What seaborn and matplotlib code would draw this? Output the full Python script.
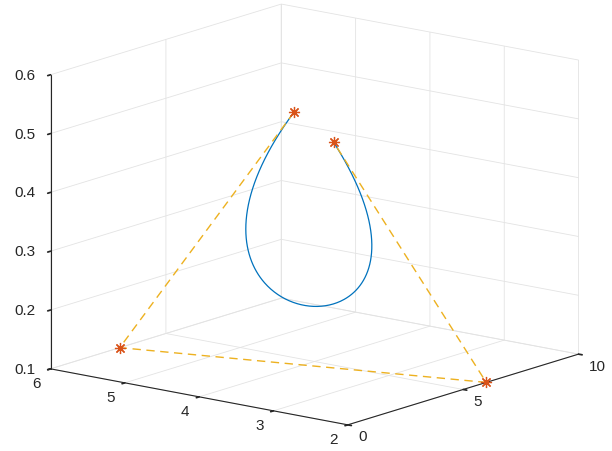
import numpy as np
import matplotlib
matplotlib.use("Agg")
import matplotlib.pyplot as plt
import seaborn as sns

# --------------------------
# Data: cubic Bezier control points (x, y, z)
# --------------------------
ctrl_x = [3.3, 3.0, 6.0, 3.9]
ctrl_y = [3.75, 6.0, 2.0, 3.4]
ctrl_z = [0.55, 0.1, 0.1, 0.5]

x_ticks = [0, 5, 10]
y_ticks = [2, 3, 4, 5, 6]
z_ticks = [0.1, 0.2, 0.3, 0.4, 0.5, 0.6]

# --------------------------
# Style
# --------------------------
sns.set_theme(style="white")
plt.rcParams['font.family'] = ['Liberation Sans', 'DejaVu Sans']
plt.rcParams['grid.color'] = '#e3e3e3'
plt.rcParams['grid.linewidth'] = 0.6
palette = {"curve": "#0072BD", "points": "#D95319", "polygon": "#EDB120"}

# Bezier curve evaluated from the control points
t = np.linspace(0, 1, 300)[:, None]
P = np.column_stack([ctrl_x, ctrl_y, ctrl_z])
B = ((1 - t) ** 3) * P[0] + 3 * t * (1 - t) ** 2 * P[1] + 3 * t ** 2 * (1 - t) * P[2] + t ** 3 * P[3]

fig = plt.figure(figsize=(6.12, 4.51), dpi=100)
ax = fig.add_axes([0.004, 0.011, 1, 1], projection="3d")
ax.set_proj_type("ortho")
ax.view_init(elev=13.9, azim=-141.9)
ax.set_box_aspect((1, 1.01, 0.81), zoom=1.317)

ax.plot(B[:, 0], B[:, 1], B[:, 2], color=palette["curve"], lw=0.9)
ax.plot(ctrl_x, ctrl_y, ctrl_z, color=palette["polygon"], ls=(0, (6, 4)), lw=1.0)
ax.plot(ctrl_x, ctrl_y, ctrl_z, ls="none", marker=(8, 2, 0), color=palette["points"],
        markersize=8, markeredgewidth=0.9)

ax.set_xlim(0, 10)
ax.set_ylim(2, 6)
ax.set_zlim(0.1, 0.6)
ax.set_xticks(x_ticks)
ax.set_yticks(y_ticks)
ax.set_zticks(z_ticks)
ax.set_zticklabels([f"{v:.1f}" for v in z_ticks])

for axis in (ax.xaxis, ax.yaxis, ax.zaxis):
    axis.set_pane_color((1, 1, 1, 0))
    axis.pane.set_edgecolor('#e3e3e3')
    axis.line.set_color('#262626')
    axis.line.set_linewidth(0.8)
    axis._axinfo['tick']['color'] = '#262626'
    axis._axinfo['tick']['inward_factor'] = 0.15
    axis._axinfo['tick']['outward_factor'] = 0.0
ax.tick_params(labelsize=11, colors='#262626')
ax.tick_params(axis='x', pad=-2)
ax.tick_params(axis='y', pad=-1)
ax.tick_params(axis='z', pad=3.5)

# alignment tweaks so the labels sit like the reference
for lab in ax.get_xticklabels():
    lab.set_ha('left')
    lab.set_va('center')
for lab in ax.get_yticklabels():
    lab.set_ha('right')
    lab.set_va('center')
for lab in ax.get_zticklabels():
    lab.set_ha('left')
    lab.set_va('center')

fig.savefig("out.png", dpi=100, facecolor="white")
